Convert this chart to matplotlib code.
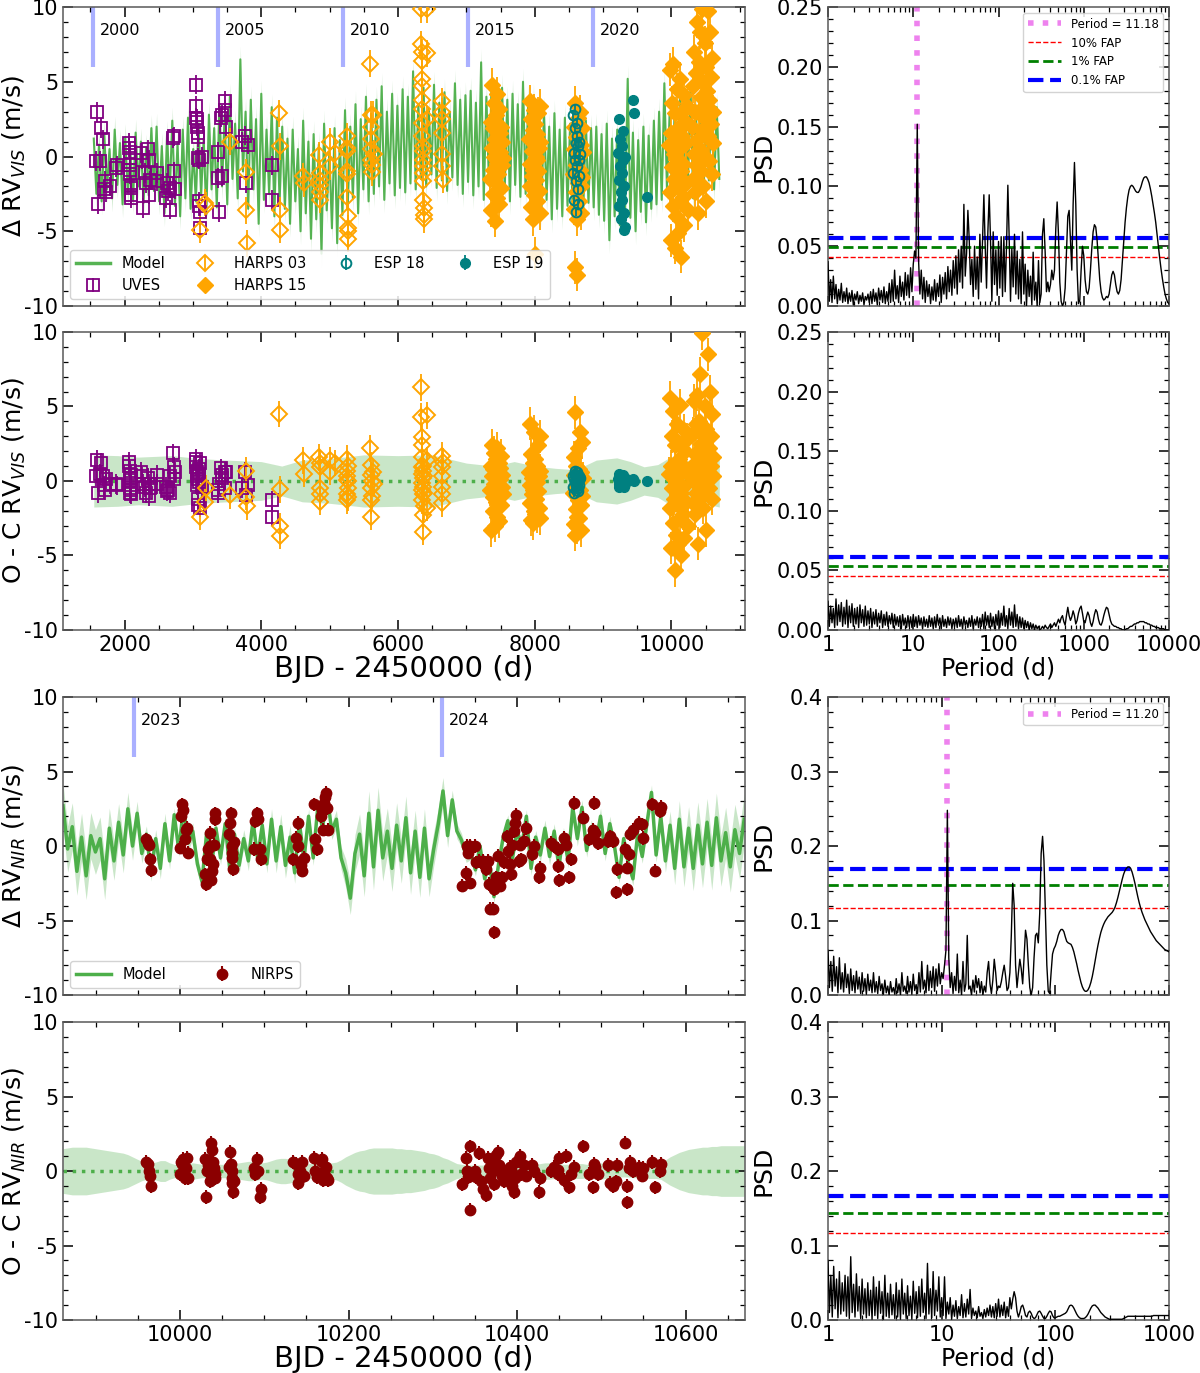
import numpy as np
import matplotlib
matplotlib.use("Agg")
import matplotlib.pyplot as plt
from matplotlib.ticker import MultipleLocator, FuncFormatter

plt.rcParams.update({
    'font.family': 'DejaVu Sans',
    'axes.unicode_minus': False,
})

# ---------------- VIS radial velocities (BJD - 2450000, m/s) ----------------
uves_t = [1580, 1600, 1610, 1640, 1650, 1690, 1700, 1712, 1730, 1788, 1875, 1890,
          2070, 2072, 2075, 2078, 2080, 2083, 2086, 2089, 2092, 2095, 2098,
          2240, 2250, 2268, 2300, 2310, 2350, 2355, 2365, 2370, 2470, 2480,
          2610, 2617, 2630, 2665, 2672, 2710, 2720, 2725, 2735,
          3040, 3045, 3050, 3055, 3060, 3065, 3070, 3075, 3080, 3085, 3090, 3095, 3100, 3105,
          3140, 3365, 3370, 3375, 3410, 3420, 3425, 3465, 3470, 3480,
          3714, 3763, 3778, 3812, 4150, 4160]
uves_rv = [-0.3, 2.98, -3.2, -0.3, 1.9, 1.15, -2.2, -1.65, -2.4, -2.0, -0.75, -0.6,
           0.9, 0.6, 0.3, -0.1, -0.6, -0.9, -1.2, -1.9, -2.1, -2.6, -2.8,
           0.25, -0.2, -3.45, -1.1, -1.8, 0.47, -0.2, -2.55, -1.6, -1.65, -1.1,
           -2.8, -1.77, -2.3, -3.55, -2.1, 1.25, 1.35, -1.0, -2.2,
           4.8, 3.4, 2.6, 2.5, 2.3, 2.0, 1.6, 1.3, -0.1, -0.2, -3.0, -3.3, -3.7, -4.8,
           0.0, -1.45, 0.3, -3.7, 2.6, -1.3, 2.8, 3.1, 3.7, 2.0,
           1.0, 1.4, -1.8, 0.8, -0.6, -2.9]
uves_res = [0.3, 1.4, -0.8, 0.5, 1.2, 0.3, -0.3, -0.6, 0.1, -0.2, -0.2, -0.3,
            1.3, 1.0, 0.7, 0.05, -0.3, -0.8, -0.5, 0.2, -0.6, -0.9, 0.4,
            0.6, 0.3, -0.2, -0.4, -0.8, 0.2, -0.2, -1.0, -0.5, 0.4, -0.2,
            -0.4, -0.7, -0.6, -0.8, 0.3, 1.85, 0.95, 0.15, 0.6,
            1.5, 1.3, 0.95, 0.6, 0.3, -0.3, -1.6, -1.2, 0.1, 0.5, -0.1, 0.8, 1.2, -1.8,
            -0.4, -0.8, -0.6, -0.2, 0.85, 0.4, 0.2, 0.6, -0.5, 0.6,
            -0.5, 0.6, -0.95, -0.3, -1.3, -2.4]
uves_err = 0.65

h03_t = [3104, 3177, 3190, 3543, 3778, 3780, 3785, 4265, 4268, 4270, 4275,
         4616, 4625, 4850, 4855, 4858, 4860, 4862, 4865, 5000, 5010, 5080,
         5250, 5252, 5254, 5256, 5258, 5260, 5262, 5264, 5266, 5268,
         5590, 5600, 5603, 5606, 5609, 5612, 5615, 5618, 5640, 5650,
         6340, 6342, 6344, 6346, 6348, 6350, 6352, 6354, 6356, 6358,
         6360, 6362, 6364, 6366, 6368, 6370, 6372, 6374, 6376, 6378,
         6420, 6425, 6430, 6640, 6642, 6644, 6646, 6648, 6650, 6652]
h03_rv = [-4.9, -3.1, -3.3, 1.0, -1.05, -3.6, -5.8, 2.9, 0.7, -3.6, -4.9,
          -1.3, -1.8, 0.1, -1.1, -1.6, -1.9, -2.4, -2.9, 1.0, -0.65, 0.25,
          1.35, 0.6, 0.35, -1.0, -1.2, -2.7, -4.0, -4.8, -5.0, -5.5,
          6.2, 2.8, 2.0, 1.15, 0.5, -0.2, -0.6, -1.05, 2.8, 0.2,
          9.85, 7.5, 6.96, 6.4, 5.2, 4.7, 3.8, 3.15, 2.26, 1.36,
          0.7, 0.36, -0.2, -0.65, -1.1, -1.65, -2.9, -3.45, -3.9, -4.2,
          9.85, 6.9, 2.5, 3.7, 3.0, 2.5, 1.6, 0.15, -0.65, -1.55]
h03_res = [-2.4, -1.4, -0.5, -0.95, 0.7, -1.05, -1.7, 4.5, -0.55, -3.05, -3.7,
           1.4, 0.5, 1.6, 0.95, -0.5, -0.85, -1.4, 1.2, 1.4, 0.6, 1.2,
           1.5, 0.7, 0.05, -0.85, -1.3, 0.3, -0.5, 1.0, -1.1, 0.0,
           2.2, 1.05, 0.4, -0.5, -1.3, -2.4, 0.0, -1.0, 0.6, -0.2,
           6.3, 4.3, 2.95, 2.4, 1.6, 0.95, 0.5, -0.15, -0.6, -1.3,
           -2.3, -3.4, 0.2, -0.9, 1.0, -0.4, 0.7, -1.7, 0.3, -0.8,
           4.4, 1.4, -1.8, 1.7, 0.95, 0.3, -0.4, -0.85, -1.5, 1.3]
h03_err = 0.9

h15_t = [7352, 7358, 7365, 7371, 7378, 7384, 7390, 7397, 7403, 7410, 7416, 7423, 7430, 7436,
         7442, 7449, 7455, 7462, 7468, 7475, 7482, 7488, 7495, 7502, 7510, 7518, 7526, 7535,
         7920, 7926, 7932, 7938, 7944, 7950, 7956, 7962, 7968, 7974, 7980, 7986, 7992, 7998,
         8004, 8010, 8016, 8022, 8028, 8034, 8040, 8046, 8052, 8058, 8064, 8070, 8076, 8082,
         8562, 8568, 8574, 8580, 8586, 8592, 8598, 8604, 8610, 8616, 8622, 8628,
         8634, 8640, 8646, 8652, 8658, 8664, 8670, 8676, 8682, 8688, 8694, 8700,
         9965, 9972, 9980, 9988, 9995, 10002, 10010, 10018, 10025, 10032, 10040, 10048,
         10055, 10062, 10070, 10078, 10085, 10092, 10100, 10108, 10115, 10122, 10130, 10138,
         10145, 10152, 10160, 10168, 10175, 10182, 10190, 10200, 10210, 10220, 10230, 10240,
         10300, 10308, 10316, 10324, 10332, 10340, 10348, 10356, 10364, 10372,
         10380, 10388, 10396, 10404, 10412, 10420, 10428, 10436, 10444, 10452,
         10460, 10468, 10476, 10484, 10492, 10500, 10508, 10516, 10524, 10532,
         10540, 10548, 10556, 10564, 10572, 10580, 10588, 10596, 10604, 10612]
h15_rv = [-1.5, 2.3, -3.6, 0.6, 4.8, -0.9, 1.9, -2.5, 3.6, 0.0, -4.3, 1.2, -1.8, 2.8,
          -0.3, 4.2, -2.8, 0.9, -1.2, 3.2, -3.2, 1.6, 0.3, -2.1, 2.0, -0.6, 1.0, -0.1,
          1.2, -2.0, 3.7, -0.5, -3.4, 2.5, 0.4, -1.3, -4.2, 1.8, -0.9, 3.1, -2.6, 0.8,
          -6.5, 2.2, -1.6, 0.0, -3.0, 1.5, -0.2, 2.9, -1.0, -2.3, 0.6, 3.4, -3.8, 1.0,
          -1.2, 2.0, -3.5, 0.5, -7.4, 3.6, -0.6, -2.4, 1.3, -4.2, -7.9, 2.6,
          -1.8, 0.0, -3.0, 1.0, 3.0, -0.9, -2.0, 0.8, -3.8, 1.9, -1.4, 0.3,
          0.8, -2.4, 5.8, -5.6, 1.6, -0.7, 3.6, -3.3, 6.2, -1.5, 0.2, -6.1,
          2.9, -4.0, 1.1, -0.2, 4.5, -2.0, -5.1, 2.0, 0.5, -3.0, 5.2, -1.0,
          -6.7, 3.0, 1.4, -2.7, -0.5, 4.1, -4.6, 2.4, -1.8, 0.9, 3.4, -3.6,
          2.0, -1.5, 4.7, 0.2, 7.0, -2.4, 3.0, 5.6, -0.6, 9.0,
          1.1, -3.8, 6.3, 2.9, 0.5, 8.3, -1.0, 4.0, 9.87, 1.8,
          -2.0, 5.0, 3.4, 7.6, 0.0, -3.0, 6.0, 2.4, 4.4, 9.75,
          1.4, -0.3, 3.8, 8.3, 5.3, 2.2, -1.2, 6.6, 3.0, 0.9]
h15_res = [-0.6, 1.0, -3.3, 0.3, 2.4, -1.1, 0.8, -2.0, 1.9, -0.2, -3.0, 0.5, -1.4, 1.5,
           0.0, 2.2, -2.4, 0.6, -0.8, 1.2, -2.7, 0.9, 0.1, -1.6, 1.7, -0.4, 0.4, -0.9,
           0.6, -1.5, 3.85, -0.3, -2.6, 1.8, 0.2, -0.9, -2.85, 1.2, -0.6, 3.3, -2.0, 0.5,
           -2.2, 1.5, -1.2, 0.1, -2.4, 1.0, -0.1, 2.4, -0.7, -1.8, 0.3, 3.0, -2.5, 0.7,
           -0.8, 1.6, -2.9, 0.4, -3.6, 4.6, -0.4, -1.9, 1.0, -3.1, -2.4, 2.2,
           -1.3, 0.0, -2.5, 0.8, 3.3, -0.6, -1.6, 0.6, -3.3, 2.6, -1.0, 0.2,
           0.5, -1.8, 5.6, -4.5, 1.0, -0.5, 3.0, -2.8, 4.7, -1.2, 0.1, -6.0,
           2.4, -3.6, 0.7, -0.2, 3.8, -1.6, -4.2, 1.5, 0.4, -2.5, 5.1, -0.8,
           -5.0, 2.6, 1.1, -2.2, -0.4, 3.4, -3.8, 2.0, -1.4, 0.6, 2.8, -3.0,
           1.0, -1.5, 3.2, 0.0, 5.4, -2.2, 1.8, 3.8, -0.8, 5.8,
           0.6, -4.2, 4.0, 1.5, 0.2, 7.2, -1.0, 2.5, 9.9, 1.0,
           -1.8, 3.0, 2.0, 5.0, -0.3, -3.3, 3.5, 1.3, 2.8, 8.5,
           0.5, -0.5, 2.2, 6.0, 3.0, 1.0, -1.2, 4.5, 1.6, 0.3]
h15_err = 1.1

esp18_t = [8562, 8567, 8572, 8577, 8582, 8587, 8592, 8597, 8602, 8607,
           8612, 8617, 8622, 8627, 8632, 8637, 8642, 8647, 8652, 8657]
esp18_rv = [2.8, -1.1, 0.25, -2.9, 1.9, -0.2, 3.15, -3.7, 0.9, -1.65,
            1.36, -0.65, 2.26, -2.2, 0.7, -3.2, -0.2, 1.0, -1.3, 0.2]
esp18_res = [0.3, -0.4, 0.1, -0.8, 0.5, -0.1, 0.7, -0.6, 0.2, -0.3,
             0.4, -0.2, 0.6, -0.5, 0.0, -0.7, 0.1, 0.3, -0.3, 0.2]
esp19_t = [9222, 9228, 9234, 9240, 9246, 9252, 9258, 9264, 9270, 9276,
           9282, 9288, 9294, 9300, 9306, 9312, 9318, 9324, 9440, 9445, 9640]
esp19_rv = [0.25, -1.55, 2.5, -3.3, -0.65, 1.14, -2.4, -4.2, 0.7, -1.1,
            -2.9, 1.7, -0.2, -3.8, -2.0, -4.9, -4.7, 0.0, 3.8, 2.9, -2.7]
esp19_res = [0.1, -0.2, 0.5, -0.4, 0.0, 0.3, -0.1, -0.3, 0.2, 0.0,
             -0.2, 0.4, 0.1, -0.3, -0.1, -0.4, -0.2, 0.2, 0.1, 0.0, 0.0]
esp_err = 0.3

# GP + planet model for VIS, sampled on a regular grid
vis_model = [1.2, -2.5, 0.8, -3.0, 1.5, -2.2, 0.5, -2.8, 1.8, -1.9, 0.9, -3.2, 1.3, -2.4, 0.2, -2.9, 1.6, -2.0, 1.0, -3.1, 0.6, -2.6, 1.9, -2.3,
             2.0, -3.0, 0.7, -3.8, 1.5, -2.5, 2.4, -3.3, 0.9, -4.0, 1.8, -2.8, 2.6, -3.5, 0.5, -3.0, 2.2, -2.6, 1.2, -3.9, 2.8, -2.2, 1.9, -3.4,
             3.5, -2.0, 2.8, -3.2, 4.0, -1.5, 2.2, -2.8, 6.5, -1.0, 3.0, -3.5, 3.8, -2.2, 2.5, -4.5, 4.2, -2.9, 1.8, -2.5, 3.3, -4.0, 2.6, -3.0,
             2.0, -3.5, 1.2, -4.5, 1.8, -3.0, 0.5, -5.0, 2.4, -3.8, 1.0, -5.5, 1.5, -4.2, 0.8, -6.5, 2.2, -3.6, 0.3, -4.8, 1.9, -5.8, 1.1, -3.9,
             3.1, -3.5, 2.0, -2.8, 3.5, -3.8, 2.5, -2.2, 4.0, -3.0, 2.8, -2.5, 3.8, -2.0, 4.7, -2.9, 3.0, -1.8, 4.2, -2.6, 3.4, -2.1, 4.5, -2.4,
             4.0, -1.8, 5.7, -2.2, 3.5, -1.5, 4.6, -2.0, 3.2, -1.2, 4.8, -2.1, 3.6, -1.6, 4.3, -2.3, 3.0, -1.4, 4.9, -1.9, 3.8, -2.5, 4.1, -1.7,
             4.4, -2.6, 3.6, -2.0, 6.3, -2.9, 4.0, -1.8, 4.9, -2.4, 3.3, -2.8, 4.6, -2.2, 3.8, -3.0, 4.2, -1.9, 3.5, -2.7, 5.0, -2.5, 3.9, -2.9,
             4.0, -3.2, 2.5, -3.8, 3.1, -2.9, 2.0, -4.2, 2.9, -3.5, 1.8, -4.0, 2.6, -3.3, 2.2, -3.8, 2.9, -2.8, 1.6, -3.6, 2.4, -3.1, 1.9, -3.4,
             2.0, -3.9, 1.5, -4.3, 2.2, -5.6, 1.2, -4.0, 1.8, -4.6, 0.9, -3.8, 5.2, -4.1, 1.6, -5.0, 1.1, -3.7, 2.0, -4.4, 1.4, -3.5, 2.4, -3.2,
             3.0, -2.9, 4.9, -2.2, 2.8, -2.6, 3.6, -1.8, 4.2, -2.5, 3.2, -1.9, 4.6, -2.8, 3.4, -2.0, 4.0, -2.4, 2.9, -1.6, 3.8, -2.2, 3.3, -1.5]
vis_model_t = np.linspace(1550, 10700, len(vis_model))
vis_model_sig = 0.9

vis_band_t = [1550, 1900, 2200, 2700, 3100, 3500, 4000, 4300, 4600, 5000, 5500, 6000, 6500, 7000,
              7400, 7700, 8000, 8300, 8600, 8900, 9200, 9400, 9600, 9800, 10000, 10300, 10700]
vis_band_hw = [1.75, 1.7, 1.6, 1.7, 1.5, 1.4, 1.3, 1.0, 1.4, 1.5, 1.75, 1.7, 1.75, 1.2,
               1.0, 1.3, 1.0, 0.85, 0.75, 1.4, 1.55, 1.3, 0.95, 1.1, 1.65, 1.3, 1.75]

years_vis = ['2000', '2005', '2010', '2015', '2020']
years_vis_t = [1545, 3371, 5197, 7023, 8849]

# ---------------- NIR radial velocities ----------------
nirps_t = [9960, 9962, 9963, 9964, 9965,
           10000, 10001, 10002, 10003, 10006, 10007, 10008, 10009,
           10030, 10031, 10032, 10033, 10035, 10035.5, 10036, 10037, 10038, 10039, 10040, 10041, 10042,
           10058, 10059, 10060, 10061, 10061.5, 10062, 10063, 10064,
           10088, 10089, 10091, 10093, 10095, 10096,
           10134, 10138, 10140, 10140.5, 10142, 10144, 10145, 10147, 10159, 10160, 10162,
           10167, 10168, 10170, 10171, 10172, 10173, 10174, 10175,
           10335, 10339, 10340.5, 10342, 10344, 10344.5, 10349.5, 10351.5, 10354.5, 10357.5,
           10359.5, 10362.5, 10365.5, 10366.5, 10368, 10371, 10373, 10374.5, 10372, 10377,
           10378, 10380, 10382, 10385, 10388, 10389, 10392, 10393, 10394, 10396,
           10398, 10399, 10402, 10404, 10405, 10408, 10411,
           10418, 10420, 10426, 10427, 10440, 10444, 10448, 10449, 10450, 10456, 10458, 10462, 10464,
           10468, 10478, 10485, 10490, 10491, 10493, 10496, 10508, 10510, 10514,
           10517, 10518, 10528, 10530, 10531, 10533, 10534, 10537, 10545, 10548,
           10549, 10560, 10564, 10569, 10571]
nirps_rv = [0.45, 0.2, 0.1, -0.9, -1.6,
            -0.1, 2.0, 2.8, 2.4, 0.45, 1.1, 1.2, -0.45,
            -1.9, -2.55, -0.9, -0.2, 0.9, -0.9, 0.0, -2.3, -1.7, -1.2, 0.1, 1.8, 2.2,
            0.8, 1.55, 2.2, -0.45, -0.8, 0.0, -1.55, 0.3,
            -0.2, 1.65, 2.2, 1.8, -0.2, -0.9,
            -0.9, 0.55, 1.55, 0.0, -1.1, -1.3, -1.65, -0.8, 2.8, 0.45, -0.2,
            2.0, 2.4, 1.1, 2.9, 3.3, 3.55, 2.55, 1.1,
            -2.65, -1.8, 0.0, -0.45, -2.45, 0.0, 0.0, -1.1, -1.0, -1.1,
            -1.0, -1.55, -1.0, -2.55, -4.2, -4.2, -2.9, -2.1, -5.8, -0.65,
            -2.2, -2.65, -2.1, -1.1, 0.65, -0.35, -1.2, -1.9, 0.1, 1.0,
            1.55, 2.1, -1.0, 0.1, -0.9, 0.35, 1.2,
            -0.55, 0.0, -2.1, -1.45, 0.2, 0.0, -0.2, -1.35, -2.3, 0.55, 0.1, -2.1, -0.9,
            2.9, 1.9, 0.45, 1.1, 2.9, 0.9, 0.2, 0.35, 0.65, 0.35,
            -3.1, -1.55, -0.2, -2.9, -1.45, -0.55, 0.8, 1.1, 1.55, 1.45,
            0.55, 2.8, -1.65, 2.35, 2.65]
nirps_res = [0.6, 0.5, 0.0, -0.3, -1.0,
             -0.2, 0.6, 0.5, 0.8, -0.5, 0.2, 0.9, -0.5,
             0.8, -1.75, 0.0, 0.4, 0.7, -0.7, 0.3, 1.9, 1.4, 0.6, 0.2, -0.2, -0.5,
             0.3, 1.3, 0.5, -0.5, -0.8, 0.0, -1.4, -0.7,
             0.2, -0.2, 0.8, 0.0, -1.75, -1.2,
             0.6, 0.5, -0.2, -0.8, 0.0, -0.4, 0.6, -0.3, 0.9, 0.0, -0.4,
             0.7, 0.8, -0.6, 0.0, -0.3, 0.3, -0.5, -0.6,
             -0.9, 0.9, 0.0, -0.4, -2.6, 1.65, 0.0, -0.4, 1.2, -0.7,
             -1.2, -1.6, 0.9, 0.2, -0.5, 0.0, -0.9, 1.1, 0.5, 1.3,
             0.4, 0.0, -0.3, -0.7, -0.5, 0.1, 0.3, 0.1, -1.0, -1.4,
             -0.5, 0.6, 0.8, 1.0, -0.2, 0.4, -0.3,
             0.4, 0.0, -1.4, -0.5, 0.0, 0.3, 0.1, -0.2, 0.9, -0.6, 1.0, -1.1, -0.2,
             0.3, 1.65, -0.2, -1.1, 0.5, 0.3, -0.2, 0.4, -0.8, -1.0,
             -0.7, 0.4, 1.9, -1.0, -2.1, 0.2, 0.6, 0.0, 0.3, -0.3,
             0.2, 0.6, -1.1, 0.0, 0.5]
nirps_err = 0.45

nir_model = [2.7, -0.2, 1.3, -1.7, 0.6, -2.0, 0.7, -0.4,
             0.5, -2.2, 1.2, -1.0, 1.6, -0.6, 2.5, 0.0,
             2.2, -0.5, 0.8, -1.8, 0.5, -1.5, 1.5, -1.0,
             2.1, -0.3, 2.6, 0.2, 1.0, -1.2, -2.4, 0.9,
             -1.5, 1.2, -0.8, 1.5, -1.6, 0.8, -1.3, 0.5,
             -1.0, 1.7, -0.8, 1.4, -1.2, 1.8, -1.0, 1.3,
             -1.3, 0.6, -1.8, 1.6, -0.9, 2.0, -0.8, 2.7,
             1.2, 3.4, 1.0, 1.8, -0.8, -1.8, -3.5, -0.5,
             0.8, -2.0, 2.2, -1.4, 2.4, -0.8, 1.0, -1.5,
             1.4, -1.0, 1.9, -1.8, 1.0, -2.1, 1.2, -2.2,
             -0.2, 1.5, 3.7, 0.7, 3.1, 1.0, 0.4, -0.7,
             -0.5, -1.6, 0.0, -2.2, -1.0, -3.4, -1.2, 0.6,
             1.7, -0.8, 1.0, 0.0, 2.0, -1.5, 0.6, -0.6,
             1.2, -0.7, 1.0, -1.4, 0.8, -1.0, 2.6, 0.5,
             2.6, -0.3, 1.3, 0.2, 2.0, -0.5, 1.5, 0.0,
             -2.1, 0.5, -1.2, -2.2, 0.8, -0.7, 1.5, 3.6,
             -0.6, 2.0, -1.0, 1.4, -1.5, 1.8, -1.4, 1.2,
             -1.5, 1.4, -1.2, 1.6, -1.3, 1.9, -1.0, 0.9,
             -1.4, 1.1, -0.5, 1.8]
nir_sig = [1.5, 1.55, 1.6, 1.6, 1.6, 1.6, 1.55, 1.5, 1.45, 1.4,
           1.35, 1.3, 1.25, 1.2, 1.1, 0.95, 0.8, 0.65, 0.55, 0.55,
           0.6, 0.7, 0.7, 0.55, 0.45, 0.4, 0.45, 0.5, 0.55, 0.5,
           0.45, 0.45, 0.5, 0.5, 0.45, 0.45, 0.5, 0.5, 0.55, 0.6,
           0.65, 0.65, 0.6, 0.55, 0.6, 0.7, 0.8, 0.85, 0.85, 0.8,
           0.7, 0.6, 0.55, 0.5, 0.5, 0.5, 0.5, 0.5, 0.55, 0.6,
           0.75, 0.95, 1.1, 1.25, 1.35, 1.4, 1.5, 1.55, 1.55, 1.55,
           1.55, 1.55, 1.5, 1.5, 1.45, 1.45, 1.4, 1.35, 1.3, 1.2,
           1.15, 1.05, 0.9, 0.8, 0.65, 0.5, 0.45, 0.4, 0.4, 0.4,
           0.4, 0.4, 0.4, 0.4, 0.4, 0.4, 0.4, 0.4, 0.4, 0.4,
           0.45, 0.45, 0.45, 0.5, 0.55, 0.55, 0.5, 0.5, 0.45, 0.45,
           0.5, 0.5, 0.5, 0.45, 0.45, 0.5, 0.55, 0.5, 0.5, 0.45,
           0.4, 0.4, 0.4, 0.45, 0.45, 0.45, 0.5, 0.5, 0.5, 0.55,
           0.75, 0.95, 1.1, 1.25, 1.35, 1.45, 1.5, 1.55, 1.6, 1.6,
           1.65, 1.65, 1.7, 1.7, 1.7, 1.7, 1.7, 1.7]
nir_model_t = np.linspace(9861, 10669.5, len(nir_model))

years_nir = ['2023', '2024']
years_nir_t = [9945.5, 10310.5]

# ---------------- periodograms (PSD) ----------------
psd_vis = [0.037, 0.004, 0.022, 0.003, 0.025, 0.006, 0.018, 0.002, 0.014, 0.005, 0.019, 0.003, 0.012, 0.004, 0.015, 0.002,
           0.011, 0.004, 0.013, 0.001, 0.010, 0.005, 0.012, 0.002, 0.009, 0.004, 0.011, 0.001, 0.008, 0.005, 0.010, 0.003,
           0.012, 0.002, 0.014, 0.004, 0.011, 0.001, 0.015, 0.005, 0.013, 0.003, 0.016, 0.002, 0.012, 0.004, 0.019, 0.003,
           0.022, 0.004, 0.030, 0.006, 0.017, 0.003, 0.025, 0.008, 0.020, 0.005, 0.028, 0.009, 0.026, 0.007, 0.032, 0.012,
           0.035, 0.046, 0.040, 0.152, 0.038, 0.010, 0.030, 0.006, 0.024, 0.003, 0.021, 0.008, 0.018, 0.002, 0.016, 0.005,
           0.022, 0.004, 0.019, 0.008, 0.026, 0.003, 0.024, 0.010, 0.028, 0.006, 0.033, 0.012, 0.030, 0.009, 0.038, 0.015,
           0.042, 0.010, 0.047, 0.020, 0.050, 0.015, 0.085, 0.025, 0.044, 0.080, 0.056, 0.018, 0.039, 0.008, 0.050, 0.014,
           0.041, 0.006, 0.060, 0.020, 0.055, 0.093, 0.050, 0.015, 0.062, 0.093, 0.055, 0.004, 0.062, 0.018, 0.047, 0.009,
           0.054, 0.015, 0.058, 0.008, 0.058, 0.012, 0.050, 0.101, 0.057, 0.004, 0.048, 0.016, 0.060, 0.010, 0.046, 0.006,
           0.039, 0.002, 0.062, 0.010, 0.035, 0.000, 0.030, 0.008, 0.025, 0.001, 0.045, 0.005, 0.020, 0.000, 0.038, 0.003,
           0.010]
psd_vis_tail = [0.020, 0.060, 0.073, 0.045, 0.012, 0.020, 0.012, 0.018, 0.030, 0.022,
                0.030, 0.065, 0.087, 0.060, 0.020, 0.004, 0.000, 0.003, 0.015, 0.045,
                0.075, 0.080, 0.055, 0.030, 0.085, 0.120, 0.085, 0.030, 0.002, 0.005,
                0.030, 0.050, 0.042, 0.022, 0.012, 0.010, 0.015, 0.030, 0.048, 0.062,
                0.068, 0.066, 0.055, 0.038, 0.022, 0.012, 0.007, 0.005, 0.006, 0.008,
                0.007, 0.010, 0.018, 0.026, 0.029, 0.026, 0.018, 0.012, 0.010, 0.013,
                0.022, 0.038, 0.055, 0.070, 0.082, 0.091, 0.097, 0.100, 0.101, 0.100,
                0.098, 0.096, 0.095, 0.095, 0.097, 0.100, 0.104, 0.107, 0.108, 0.108,
                0.106, 0.103, 0.098, 0.092, 0.085, 0.078, 0.070, 0.060, 0.050, 0.040,
                0.031, 0.023, 0.016, 0.010, 0.006, 0.003, 0.002]
psd_vis_res = [0.024, 0.003, 0.020, 0.006, 0.018, 0.002, 0.026, 0.004, 0.021, 0.007, 0.023, 0.003, 0.019, 0.005, 0.025, 0.002,
               0.020, 0.006, 0.022, 0.003, 0.018, 0.005, 0.019, 0.002, 0.021, 0.006, 0.017, 0.003, 0.020, 0.004, 0.016, 0.005,
               0.018, 0.002, 0.015, 0.005, 0.017, 0.003, 0.014, 0.006, 0.016, 0.002, 0.013, 0.004, 0.015, 0.003, 0.012, 0.005,
               0.014, 0.002, 0.013, 0.004, 0.011, 0.003, 0.012, 0.001, 0.013, 0.004, 0.010, 0.002, 0.012, 0.003, 0.011, 0.002,
               0.013, 0.003, 0.011, 0.002, 0.012, 0.004, 0.010, 0.001, 0.011, 0.003, 0.009, 0.002, 0.012, 0.003, 0.010, 0.001,
               0.011, 0.002, 0.013, 0.004, 0.010, 0.001, 0.012, 0.003, 0.009, 0.002, 0.011, 0.004, 0.010, 0.001, 0.009, 0.003,
               0.010, 0.002, 0.012, 0.003, 0.009, 0.001, 0.011, 0.004, 0.008, 0.002, 0.010, 0.003, 0.012, 0.001, 0.009, 0.004,
               0.011, 0.002, 0.010, 0.003, 0.013, 0.001, 0.015, 0.004, 0.012, 0.002, 0.014, 0.003, 0.011, 0.001, 0.013, 0.004,
               0.016, 0.002, 0.014, 0.004, 0.020, 0.003, 0.012, 0.001, 0.018, 0.004, 0.015, 0.002, 0.021, 0.003, 0.013, 0.001,
               0.011, 0.002, 0.010, 0.001, 0.008, 0.002, 0.007, 0.000, 0.006, 0.001, 0.005, 0.000, 0.004, 0.001, 0.003, 0.000,
               0.001]
psd_vis_res_tail = [0.002, 0.003, 0.001, 0.004, 0.002, 0.001, 0.003, 0.005, 0.002, 0.004,
                    0.006, 0.003, 0.006, 0.009, 0.006, 0.010, 0.012, 0.007, 0.004, 0.012,
                    0.019, 0.012, 0.008, 0.011, 0.016, 0.012, 0.005, 0.008, 0.014, 0.018,
                    0.020, 0.014, 0.007, 0.006, 0.011, 0.015, 0.012, 0.006, 0.003, 0.007,
                    0.013, 0.017, 0.015, 0.009, 0.005, 0.004, 0.007, 0.012, 0.016, 0.019,
                    0.018, 0.013, 0.008, 0.005, 0.004, 0.003, 0.003, 0.002, 0.002, 0.001,
                    0.001, 0.000, 0.000, 0.000, 0.001, 0.001, 0.002, 0.003, 0.003, 0.004,
                    0.005, 0.005, 0.006, 0.006, 0.007, 0.007, 0.007, 0.007, 0.006, 0.006,
                    0.005, 0.005, 0.004, 0.004, 0.003, 0.003, 0.002, 0.002, 0.002, 0.001,
                    0.001, 0.001, 0.001, 0.000, 0.000, 0.000, 0.000]
fap_vis = [0.041, 0.049, 0.057]
fap_vis_res = [0.045, 0.054, 0.061]
period_vis = 11.18

psd_nir = [0.060, 0.010, 0.045, 0.005, 0.052, 0.012, 0.038, 0.003, 0.050, 0.008, 0.030, 0.004, 0.042, 0.010, 0.028, 0.002,
           0.035, 0.006, 0.026, 0.003, 0.032, 0.008, 0.024, 0.002, 0.030, 0.005, 0.022, 0.001, 0.028, 0.006, 0.020, 0.003,
           0.030, 0.004, 0.018, 0.002, 0.025, 0.006, 0.015, 0.001, 0.020, 0.003, 0.012, 0.000, 0.018, 0.004, 0.010, 0.001,
           0.022, 0.003, 0.015, 0.000, 0.030, 0.005, 0.012, 0.002, 0.025, 0.004, 0.018, 0.001, 0.028, 0.006, 0.014, 0.002,
           0.030, 0.004, 0.045, 0.008, 0.020, 0.003, 0.040, 0.006, 0.032, 0.010, 0.038, 0.005, 0.035, 0.012, 0.042, 0.015,
           0.030, 0.022, 0.040, 0.060, 0.248, 0.050, 0.010, 0.030, 0.002, 0.025, 0.006, 0.055, 0.003, 0.020, 0.000, 0.045,
           0.005, 0.015, 0.080, 0.008, 0.012, 0.000, 0.020, 0.004, 0.026, 0.010, 0.022, 0.003, 0.018, 0.000, 0.012, 0.004,
           0.030, 0.045, 0.015, 0.002, 0.020, 0.048, 0.030, 0.006, 0.012, 0.010, 0.018, 0.030, 0.040, 0.025, 0.006, 0.010,
           0.030]
psd_nir_tail = [0.030, 0.080, 0.150, 0.120, 0.040, 0.010, 0.030, 0.048, 0.035, 0.015,
                0.050, 0.087, 0.075, 0.040, 0.010, 0.000, 0.010, 0.050, 0.080, 0.083,
                0.070, 0.110, 0.190, 0.213, 0.180, 0.110, 0.040, 0.005, 0.002, 0.030,
                0.055, 0.062, 0.066, 0.072, 0.080, 0.085, 0.088, 0.088, 0.085, 0.078,
                0.072, 0.070, 0.069, 0.068, 0.064, 0.058, 0.050, 0.042, 0.033, 0.025,
                0.017, 0.011, 0.007, 0.005, 0.005, 0.007, 0.011, 0.017, 0.025, 0.035,
                0.046, 0.057, 0.067, 0.076, 0.084, 0.090, 0.095, 0.099, 0.102, 0.105,
                0.107, 0.109, 0.111, 0.114, 0.118, 0.124, 0.131, 0.139, 0.147, 0.155,
                0.162, 0.167, 0.170, 0.172, 0.172, 0.170, 0.165, 0.158, 0.150, 0.141,
                0.132, 0.124, 0.117, 0.111, 0.106, 0.101, 0.097, 0.093, 0.089, 0.085,
                0.082, 0.079, 0.076, 0.073, 0.071, 0.069, 0.067, 0.065, 0.063, 0.061,
                0.060, 0.059, 0.058]
psd_nir_res = [0.080, 0.010, 0.060, 0.004, 0.072, 0.015, 0.055, 0.003, 0.065, 0.008, 0.050, 0.012, 0.060, 0.005, 0.058, 0.002,
               0.085, 0.010, 0.048, 0.004, 0.062, 0.012, 0.045, 0.002, 0.055, 0.008, 0.042, 0.003, 0.050, 0.006, 0.040, 0.001,
               0.058, 0.006, 0.044, 0.002, 0.052, 0.009, 0.038, 0.001, 0.060, 0.005, 0.036, 0.003, 0.048, 0.007, 0.034, 0.002,
               0.050, 0.004, 0.040, 0.001, 0.055, 0.008, 0.036, 0.002, 0.046, 0.006, 0.032, 0.001, 0.052, 0.009, 0.038, 0.003,
               0.045, 0.005, 0.055, 0.010, 0.036, 0.002, 0.076, 0.008, 0.042, 0.003, 0.065, 0.006, 0.040, 0.012, 0.058, 0.004,
               0.030, 0.006, 0.058, 0.002, 0.024, 0.008, 0.030, 0.001, 0.020, 0.005, 0.026, 0.002, 0.018, 0.006, 0.034, 0.003,
               0.022, 0.004, 0.028, 0.008, 0.041, 0.002, 0.016, 0.006, 0.012, 0.003, 0.018, 0.005, 0.010, 0.002, 0.014, 0.004,
               0.016, 0.006, 0.020, 0.004, 0.018, 0.003, 0.022, 0.005, 0.028, 0.004, 0.020, 0.006, 0.024, 0.003, 0.018, 0.005,
               0.030]
psd_nir_res_tail = [0.030, 0.015, 0.028, 0.038, 0.030, 0.012, 0.004, 0.010, 0.018, 0.020,
                    0.014, 0.006, 0.004, 0.010, 0.012, 0.009, 0.004, 0.002, 0.003, 0.007,
                    0.011, 0.012, 0.009, 0.005, 0.002, 0.002, 0.005, 0.009, 0.012, 0.011,
                    0.006, 0.003, 0.003, 0.004, 0.005, 0.005, 0.006, 0.007, 0.008, 0.009,
                    0.011, 0.015, 0.019, 0.020, 0.019, 0.016, 0.012, 0.008, 0.005, 0.003,
                    0.002, 0.002, 0.002, 0.003, 0.005, 0.008, 0.012, 0.016, 0.019, 0.020,
                    0.020, 0.018, 0.016, 0.013, 0.010, 0.008, 0.006, 0.004, 0.003, 0.002,
                    0.001, 0.001, 0.001, 0.001, 0.001, 0.001, 0.001, 0.001, 0.001, 0.001,
                    0.002, 0.003, 0.004, 0.005, 0.005, 0.005, 0.005, 0.005, 0.005, 0.005,
                    0.005, 0.005, 0.005, 0.005, 0.005, 0.005, 0.005, 0.005, 0.005, 0.005,
                    0.005, 0.006, 0.006, 0.006, 0.006, 0.006, 0.006, 0.006, 0.006, 0.006,
                    0.006, 0.006, 0.006]
fap_nir = [0.117, 0.148, 0.169]
fap_nir_res = [0.117, 0.144, 0.166]
period_nir = 11.20

# ---------------- styling ----------------
GREEN = '#4daf4a'
ORANGE = 'orange'
TEAL = 'teal'
PURPLE = 'purple'
NIRCOL = 'darkred'


def style(ax):
    ax.minorticks_on()
    ax.tick_params(which='both', direction='in', top=True, right=True)
    ax.tick_params(which='major', length=7, width=1.1, labelsize=15)
    ax.tick_params(which='minor', length=3.5, width=0.9)
    for s in ax.spines.values():
        s.set_color('0.35')
        s.set_linewidth(1.1)


def rv_axis(ax, xlim, major, minor, ylabel, bottom_labels):
    ax.set_xlim(*xlim)
    ax.set_ylim(-10, 10)
    style(ax)
    ax.xaxis.set_major_locator(MultipleLocator(major))
    ax.xaxis.set_minor_locator(MultipleLocator(minor))
    ax.yaxis.set_major_locator(MultipleLocator(5))
    ax.yaxis.set_minor_locator(MultipleLocator(1))
    ax.set_ylabel(ylabel, fontsize=18)
    ax.yaxis.set_label_coords(-0.052, 0.5)
    if bottom_labels:
        ax.set_xlabel('BJD - 2450000 (d)', fontsize=21, labelpad=0)
    else:
        ax.tick_params(labelbottom=False)


def periodogram(ax, lo, mid, hi, forest, tail, faps, ymax, ystep, ymin_step, period=None):
    p1 = np.logspace(lo, mid, len(forest))
    p2 = np.logspace(mid, hi, len(tail))
    per = np.concatenate([p1, p2[1:]])
    pw = np.concatenate([forest, tail[1:]])
    if period is not None:
        ax.axvline(period, color='violet', ls=':', lw=4, zorder=1,
                   label='Period = %.2f' % period)
    ax.plot(per, pw, color='black', lw=1, zorder=3)
    ax.axhline(faps[0], color='red', ls='--', lw=1, label='10% FAP', zorder=2)
    ax.axhline(faps[1], color='green', ls='--', lw=2, label='1% FAP', zorder=2)
    ax.axhline(faps[2], color='blue', ls='--', lw=3, label='0.1% FAP', zorder=2)
    ax.set_xscale('log')
    ax.set_xlim(10 ** lo, 10 ** hi)
    ax.set_ylim(0, ymax)
    style(ax)
    ax.yaxis.set_major_locator(MultipleLocator(ystep))
    ax.yaxis.set_minor_locator(MultipleLocator(ymin_step))
    ax.xaxis.set_major_formatter(FuncFormatter(lambda v, p: '%g' % v))
    ax.set_ylabel('PSD', fontsize=18)
    ax.yaxis.set_label_coords(-0.155, 0.5)


def year_marks(ax, labels, times):
    for lab, t in zip(labels, times):
        ax.vlines(t, 6, 10, color='#aab0ff', lw=3, zorder=1)
        ax.annotate(lab, (t, 8.45), xytext=(5, 0), textcoords='offset points',
                    va='center', ha='left', fontsize=11.5)


fig = plt.figure(figsize=(12, 13.73), dpi=100)
L, LW = 0.0525, 0.568
R, RW = 0.69, 0.2842
rows = [(0.7771, 0.2178), (0.5412, 0.2170), (0.2753, 0.2170), (0.0386, 0.2170)]

# ---- row 1: VIS RVs ----
ax = fig.add_axes([L, rows[0][0], LW, rows[0][1]])
ax.fill_between(vis_model_t, np.array(vis_model) - vis_model_sig, np.array(vis_model) + vis_model_sig,
                color=GREEN, alpha=0.25, lw=0, zorder=1)
ax.plot(vis_model_t, vis_model, color=GREEN, lw=1.5, alpha=0.95, zorder=2, label='Model')
ax.errorbar(uves_t, uves_rv, yerr=uves_err, fmt='s', ms=8, mfc='none', mec=PURPLE, mew=1.3,
            ecolor=PURPLE, elinewidth=1.3, zorder=4, label='UVES')
ax.errorbar(h03_t, h03_rv, yerr=h03_err, fmt='D', ms=8, mfc='none', mec=ORANGE, mew=1.4,
            ecolor=ORANGE, elinewidth=1.3, zorder=4, label='HARPS 03')
ax.errorbar(h15_t, h15_rv, yerr=h15_err, fmt='D', ms=8, color=ORANGE,
            ecolor=ORANGE, elinewidth=1.3, zorder=4, label='HARPS 15')
ax.errorbar(esp18_t, esp18_rv, yerr=esp_err, fmt='o', ms=7, mfc='none', mec=TEAL, mew=1.4,
            ecolor=TEAL, elinewidth=1.3, zorder=5, label='ESP 18')
ax.errorbar(esp19_t, esp19_rv, yerr=esp_err, fmt='o', ms=7, color=TEAL,
            ecolor=TEAL, elinewidth=1.3, zorder=5, label='ESP 19')
year_marks(ax, years_vis, years_vis_t)
rv_axis(ax, (1100, 11070), 2000, 500, r'$\Delta$ RV$_{VIS}$ (m/s)', False)
leg = ax.legend(loc='lower left', ncol=4, fontsize=10.5, handlelength=2.3, columnspacing=1.6,
                framealpha=0.85)
leg.legend_handles[0].set_linewidth(2.5)

# ---- row 2: VIS residuals ----
ax = fig.add_axes([L, rows[1][0], LW, rows[1][1]])
ax.fill_between(vis_band_t, -np.array(vis_band_hw), vis_band_hw, color=GREEN, alpha=0.3, lw=0, zorder=1)
ax.plot([vis_model_t[0], vis_model_t[-1]], [0, 0], color=GREEN, ls=':', lw=2.5, zorder=2)
ax.errorbar(uves_t, uves_res, yerr=uves_err, fmt='s', ms=8, mfc='none', mec=PURPLE, mew=1.3,
            ecolor=PURPLE, elinewidth=1.3, zorder=4)
ax.errorbar(h03_t, h03_res, yerr=h03_err, fmt='D', ms=8, mfc='none', mec=ORANGE, mew=1.4,
            ecolor=ORANGE, elinewidth=1.3, zorder=4)
ax.errorbar(h15_t, h15_res, yerr=h15_err, fmt='D', ms=8, color=ORANGE,
            ecolor=ORANGE, elinewidth=1.3, zorder=4)
ax.errorbar(esp18_t, esp18_res, yerr=esp_err, fmt='o', ms=7, mfc='none', mec=TEAL, mew=1.4,
            ecolor=TEAL, elinewidth=1.3, zorder=5)
ax.errorbar(esp19_t, esp19_res, yerr=esp_err, fmt='o', ms=7, color=TEAL,
            ecolor=TEAL, elinewidth=1.3, zorder=5)
rv_axis(ax, (1100, 11070), 2000, 500, r'O - C RV$_{VIS}$ (m/s)', True)

# ---- row 3: NIR RVs ----
ax = fig.add_axes([L, rows[2][0], LW, rows[2][1]])
nm = np.array(nir_model)
ns = np.array(nir_sig)
ax.fill_between(nir_model_t, nm - ns, nm + ns, color=GREEN, alpha=0.3, lw=0, zorder=1)
ax.plot(nir_model_t, nm, color=GREEN, lw=2.5, zorder=2, label='Model')
ax.errorbar(nirps_t, nirps_rv, yerr=nirps_err, fmt='o', ms=7.5, color=NIRCOL,
            ecolor=NIRCOL, elinewidth=1.5, zorder=4, label='NIRPS')
year_marks(ax, years_nir, years_nir_t)
rv_axis(ax, (9861, 10670), 200, 50, r'$\Delta$ RV$_{NIR}$ (m/s)', False)
ax.legend(loc='lower left', ncol=2, fontsize=10.5, handlelength=2.4, columnspacing=2.6,
          framealpha=0.85)

# ---- row 4: NIR residuals ----
ax = fig.add_axes([L, rows[3][0], LW, rows[3][1]])
ax.fill_between(nir_model_t, -ns, ns, color=GREEN, alpha=0.3, lw=0, zorder=1)
ax.plot([nir_model_t[0], nir_model_t[-1]], [0, 0], color=GREEN, ls=':', lw=2.5, zorder=2)
ax.errorbar(nirps_t, nirps_res, yerr=nirps_err, fmt='o', ms=7.5, color=NIRCOL,
            ecolor=NIRCOL, elinewidth=1.5, zorder=4)
rv_axis(ax, (9861, 10670), 200, 50, r'O - C RV$_{NIR}$ (m/s)', True)

# ---- periodograms ----
ax = fig.add_axes([R, rows[0][0], RW, rows[0][1]])
periodogram(ax, 0, 2.5, 4, psd_vis, psd_vis_tail, fap_vis, 0.25, 0.05, 0.01, period_vis)
ax.tick_params(labelbottom=False)
ax.legend(loc='upper right', fontsize=8.5, handlelength=2.8, framealpha=0.85)

ax = fig.add_axes([R, rows[1][0], RW, rows[1][1]])
periodogram(ax, 0, 2.5, 4, psd_vis_res, psd_vis_res_tail, fap_vis_res, 0.25, 0.05, 0.01)
ax.set_xlabel('Period (d)', fontsize=17, labelpad=1)

ax = fig.add_axes([R, rows[2][0], RW, rows[2][1]])
periodogram(ax, 0, 1.6, 3, psd_nir, psd_nir_tail, fap_nir, 0.4, 0.1, 0.02, period_nir)
ax.tick_params(labelbottom=False)
ax.legend(handles=ax.get_legend_handles_labels()[0][:1], loc='upper right', fontsize=8.5,
          handlelength=2.8, framealpha=0.85)

ax = fig.add_axes([R, rows[3][0], RW, rows[3][1]])
periodogram(ax, 0, 1.6, 3, psd_nir_res, psd_nir_res_tail, fap_nir_res, 0.4, 0.1, 0.02)
ax.set_xlabel('Period (d)', fontsize=17, labelpad=1)

fig.savefig('out.png', dpi=100)
